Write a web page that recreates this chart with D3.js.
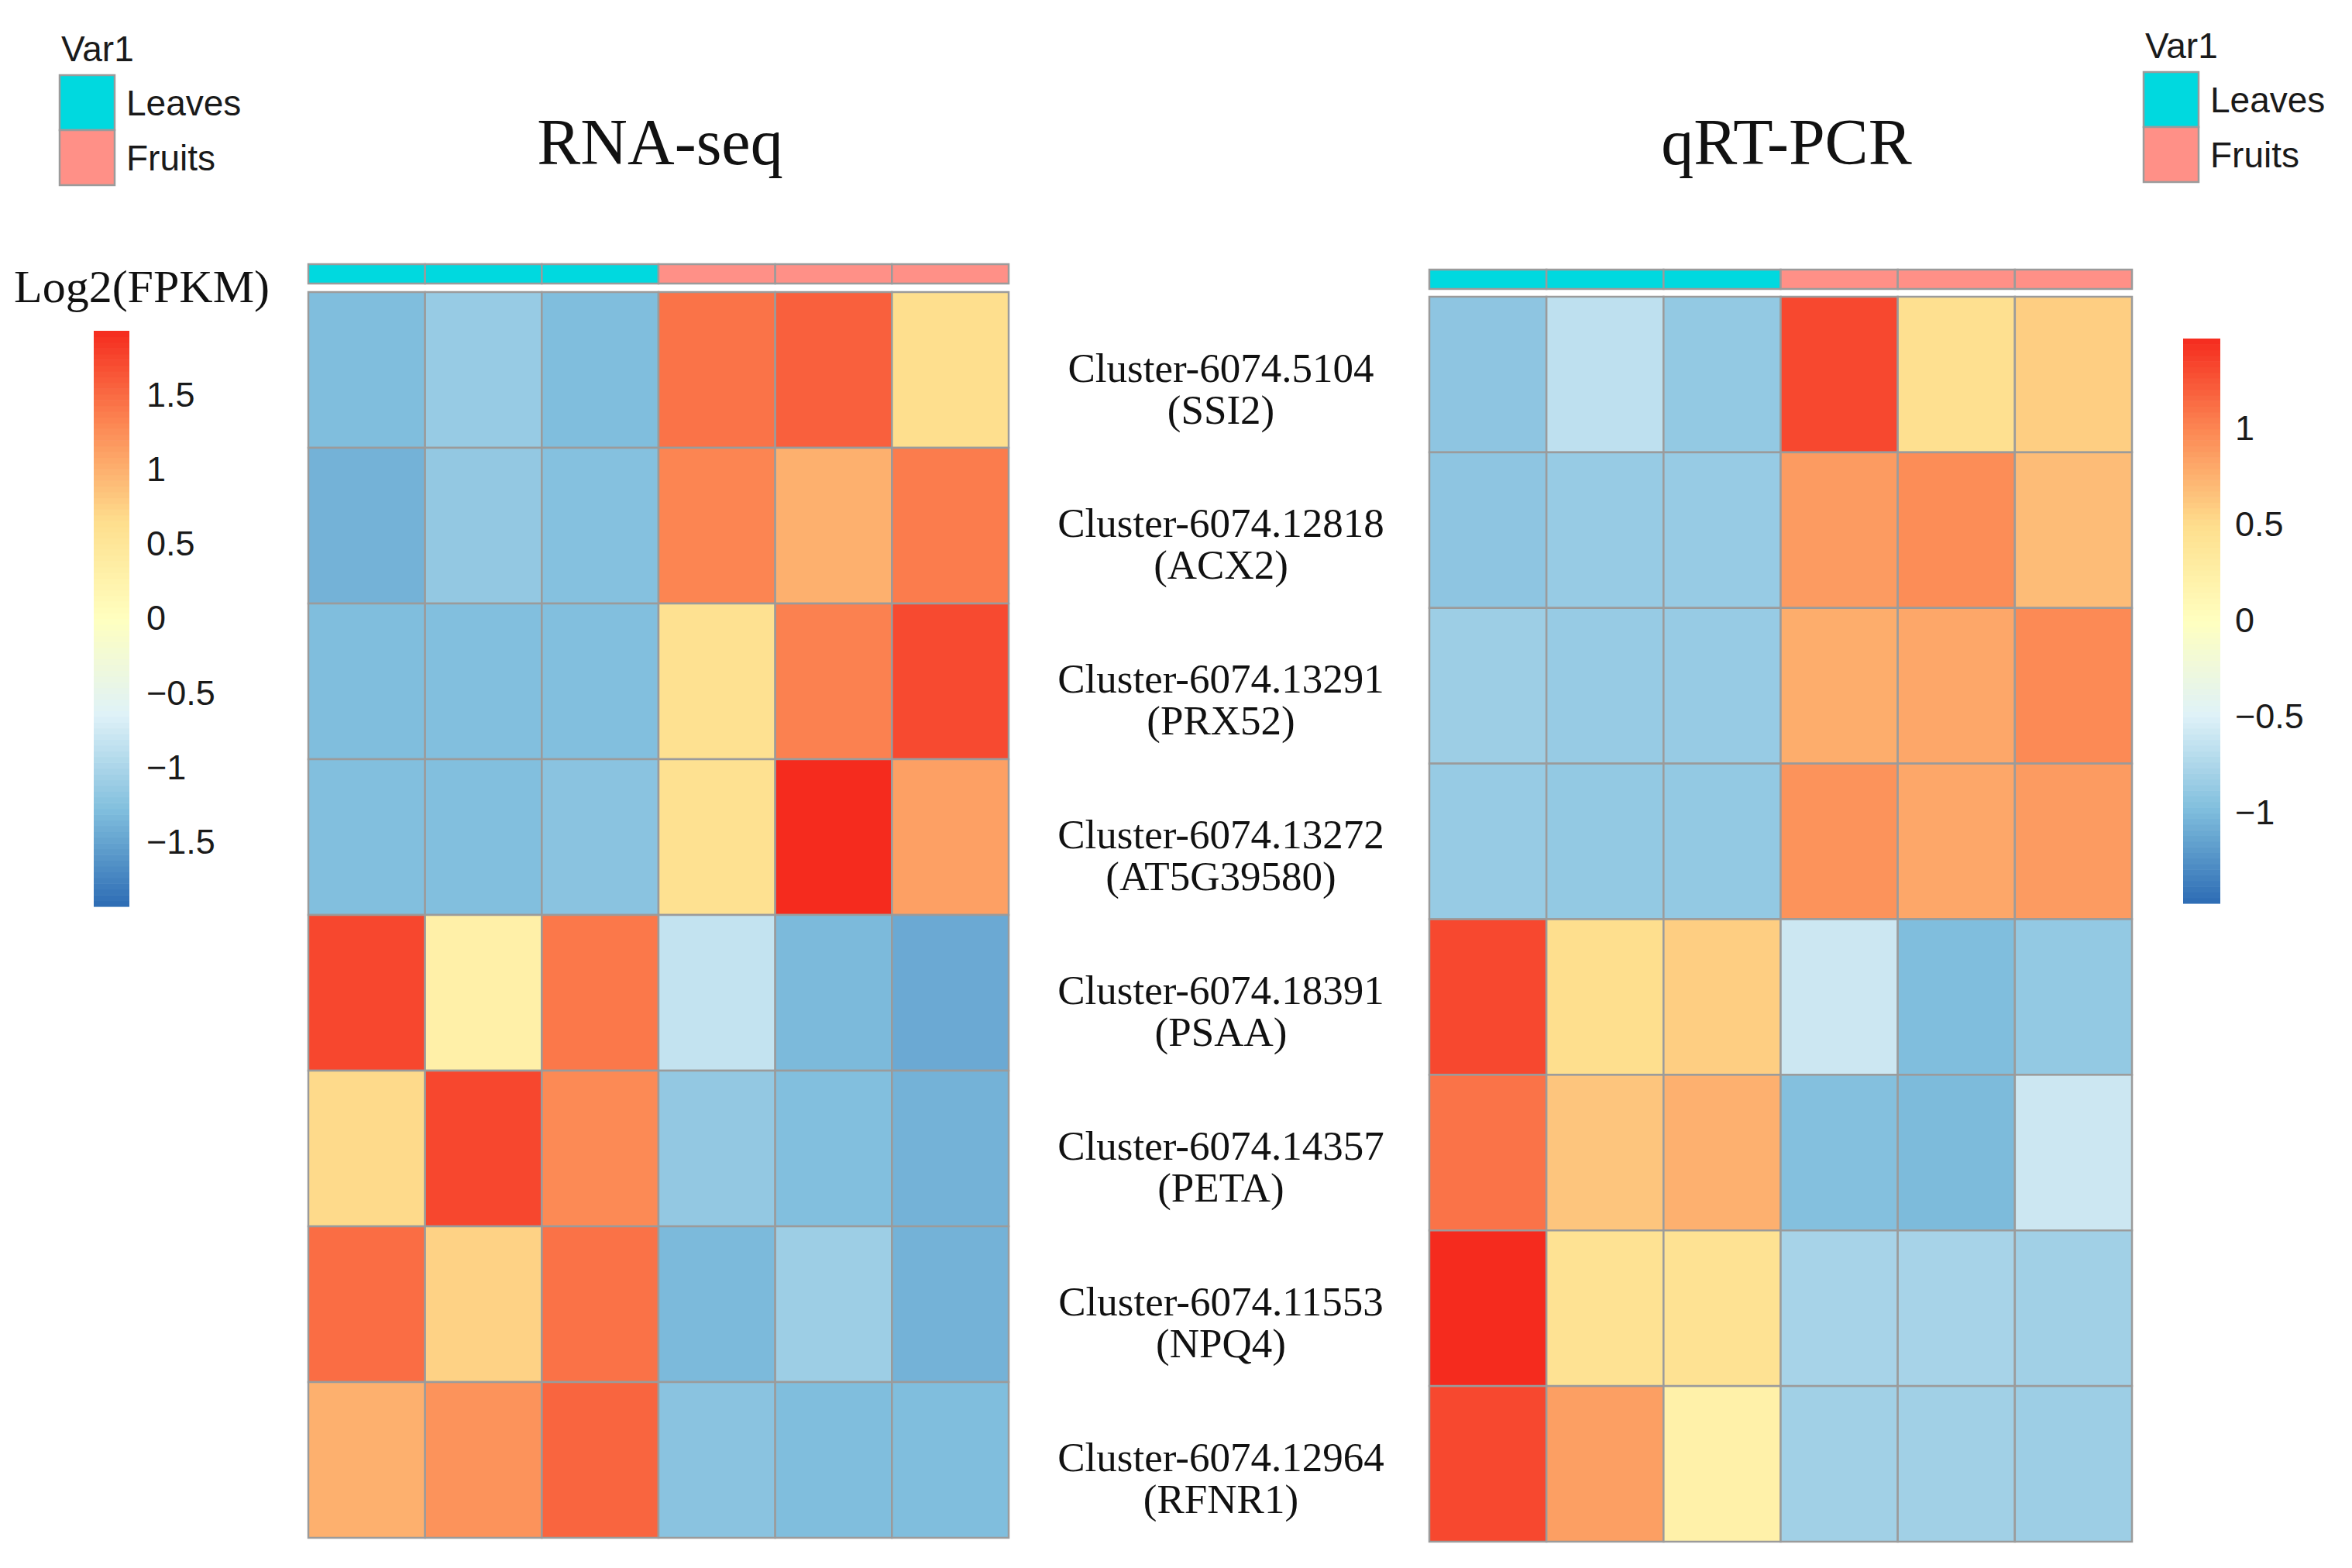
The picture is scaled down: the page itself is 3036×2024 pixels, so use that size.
<!DOCTYPE html>
<html>
<head>
<meta charset="utf-8">
<script src="https://cdn.jsdelivr.net/npm/d3@7"></script>
<style>
  body { margin: 0; background: #fff; }
  svg { display: block; }
</style>
</head>
<body>
<svg width="3036" height="2024"></svg>
<script>
// samples (columns) and their tissue group
var samples = ["L1", "L2", "L3", "F1", "F2", "F3"];
var groups = ["Leaves", "Leaves", "Leaves", "Fruits", "Fruits", "Fruits"];
var groupLevels = ["Leaves", "Fruits"];
var groupColors = ["#00D9DF", "#FF9087"];

// genes (rows)
var genes = ["Cluster-6074.5104", "Cluster-6074.12818", "Cluster-6074.13291", "Cluster-6074.13272",
             "Cluster-6074.18391", "Cluster-6074.14357", "Cluster-6074.11553", "Cluster-6074.12964"];
var geneNames = ["SSI2", "ACX2", "PRX52", "AT5G39580", "PSAA", "PETA", "NPQ4", "RFNR1"];

// row-scaled expression, RNA-seq
var rnaSeq = [
  [-1.29, -1.13, -1.29, 1.44, 1.57, 0.64],
  [-1.38, -1.16, -1.25, 1.32, 1.00, 1.38],
  [-1.29, -1.27, -1.27, 0.61, 1.35, 1.72],
  [-1.27, -1.27, -1.22, 0.61, 1.93, 1.12],
  [1.74, 0.30, 1.41, -0.83, -1.32, -1.45],
  [0.68, 1.74, 1.29, -1.16, -1.27, -1.38],
  [1.48, 0.74, 1.45, -1.32, -1.09, -1.38],
  [1.00, 1.22, 1.54, -1.22, -1.29, -1.29]
];
// row-scaled expression, qRT-PCR
var qrtPcr = [
  [-0.91, -0.66, -0.88, 1.32, 0.47, 0.59],
  [-0.91, -0.86, -0.86, 0.88, 0.96, 0.69],
  [-0.83, -0.86, -0.86, 0.78, 0.81, 0.98],
  [-0.86, -0.88, -0.88, 0.93, 0.81, 0.88],
  [1.32, 0.49, 0.59, -0.59, -0.98, -0.88],
  [1.10, 0.64, 0.76, -0.96, -1.00, -0.59],
  [1.47, 0.44, 0.44, -0.78, -0.78, -0.81],
  [1.32, 0.86, 0.22, -0.81, -0.81, -0.83]
];

var rnaLimit = 1.93, pcrLimit = 1.47;
var rnaTicks = [-1.5, -1, -0.5, 0, 0.5, 1, 1.5];
var pcrTicks = [-1, -0.5, 0, 0.5, 1];

var palette = ["#2C6CB4", "#80BEDD", "#DFF2F8", "#FFFFBF", "#FEDF8E", "#FC8A55", "#F52B1E"];
var borderCol = "#9b9b9b";

var svg = d3.select("svg");

function makeColor(lim) {
    return d3.scaleLinear()
        .domain(d3.range(7).map(function (i) { return -lim + i * lim / 3; }))
        .range(palette)
        .clamp(true);
}

function heatmap(opt) {
    var g = svg.append("g");
    var x = d3.scaleBand().domain(samples).range([opt.x0, opt.x1]);
    var y = d3.scaleBand().domain(genes).range([opt.y0, opt.y1]);
    var color = makeColor(opt.limit);

    // annotation bar
    g.selectAll("rect.ann")
        .data(samples)
        .enter().append("rect")
        .attr("class", "ann")
        .attr("x", function (d) { return x(d); })
        .attr("y", opt.annY)
        .attr("width", x.bandwidth())
        .attr("height", opt.annH)
        .attr("fill", function (d, i) { return groupColors[groupLevels.indexOf(groups[i])]; })
        .attr("stroke", borderCol)
        .attr("stroke-width", 2.5);

    // cells
    var cells = [];
    opt.values.forEach(function (row, r) {
        row.forEach(function (v, c) { cells.push({ gene: genes[r], sample: samples[c], v: v }); });
    });
    g.selectAll("rect.cell")
        .data(cells)
        .enter().append("rect")
        .attr("class", "cell")
        .attr("x", function (d) { return x(d.sample); })
        .attr("y", function (d) { return y(d.gene); })
        .attr("width", x.bandwidth())
        .attr("height", y.bandwidth())
        .attr("fill", function (d) { return color(d.v); })
        .attr("stroke", borderCol)
        .attr("stroke-width", 2.5);

    // title
    svg.append("text")
        .attr("x", opt.titleX)
        .attr("y", 212)
        .attr("text-anchor", "middle")
        .attr("font-family", "'Liberation Serif', 'Times New Roman', serif")
        .attr("font-size", 84)
        .attr("fill", "#111")
        .text(opt.title);

    // colour legend
    var ly = d3.scaleLinear().domain([-opt.limit, opt.limit]).range([opt.barY1, opt.barY0]);
    var n = 100, step = 2 * opt.limit / n;
    svg.append("g").selectAll("rect")
        .data(d3.range(n))
        .enter().append("rect")
        .attr("x", opt.barX)
        .attr("width", opt.barW)
        .attr("y", function (i) { return ly(-opt.limit + (i + 1) * step); })
        .attr("height", function (i) { return ly(-opt.limit + i * step) - ly(-opt.limit + (i + 1) * step) + 0.6; })
        .attr("fill", function (i) { return color(-opt.limit + (i + 0.5) * step); });

    var ax = svg.append("g")
        .attr("transform", "translate(" + (opt.barX + opt.barW) + ",0)")
        .call(d3.axisRight(ly).tickValues(opt.ticks).tickSize(0).tickPadding(opt.tickPad)
            .tickFormat(d3.format("~g")));
    ax.select(".domain").remove();
    ax.selectAll("text")
        .attr("font-family", "'Liberation Sans', Arial, sans-serif")
        .attr("font-size", 45)
        .attr("fill", "#1a1a1a");

    // group legend
    var lg = svg.append("g").attr("transform", "translate(" + opt.legX + "," + opt.legY + ")");
    lg.append("text")
        .attr("x", 2).attr("y", -18)
        .attr("font-family", "'Liberation Sans', Arial, sans-serif")
        .attr("font-size", 46)
        .attr("fill", "#1a1a1a")
        .text("Var1");
    groupLevels.forEach(function (lev, i) {
        lg.append("rect")
            .attr("x", 0).attr("y", i * 71)
            .attr("width", 71).attr("height", 71)
            .attr("fill", groupColors[i])
            .attr("stroke", borderCol)
            .attr("stroke-width", 2.5);
        lg.append("text")
            .attr("x", 86).attr("y", i * 71 + 52)
            .attr("font-family", "'Liberation Sans', Arial, sans-serif")
            .attr("font-size", 46)
            .attr("fill", "#1a1a1a")
            .text(lev);
    });

    return y;
}

var yLeft = heatmap({
    values: rnaSeq, limit: rnaLimit, ticks: rnaTicks, title: "RNA-seq",
    x0: 398, x1: 1302, y0: 377, y1: 1985, annY: 341, annH: 25, titleX: 852,
    barX: 121, barW: 46, barY0: 427, barY1: 1170, tickPad: 22,
    legX: 77, legY: 97
});
var yRight = heatmap({
    values: qrtPcr, limit: pcrLimit, ticks: pcrTicks, title: "qRT-PCR",
    x0: 1845, x1: 2752, y0: 383, y1: 1990, annY: 348, annH: 25, titleX: 2306,
    barX: 2818, barW: 48, barY0: 437, barY1: 1166, tickPad: 19,
    legX: 2767, legY: 93
});

// title of the left colour key
svg.append("text")
    .attr("x", 183).attr("y", 390)
    .attr("text-anchor", "middle")
    .attr("font-family", "'Liberation Serif', 'Times New Roman', serif")
    .attr("font-size", 60)
    .attr("fill", "#111")
    .text("Log2(FPKM)");

// gene labels between the two heatmaps
var labels = svg.append("g").selectAll("text")
    .data(genes)
    .enter().append("text")
    .attr("text-anchor", "middle")
    .attr("font-family", "'Liberation Serif', 'Times New Roman', serif")
    .attr("font-size", 53)
    .attr("fill", "#111");
labels.append("tspan")
    .attr("x", 1576)
    .attr("y", function (d) { return (yLeft(d) + yRight(d)) / 2 + yLeft.bandwidth() / 2 + 12; })
    .text(function (d) { return d; });
labels.append("tspan")
    .attr("x", 1576)
    .attr("dy", 54)
    .text(function (d, i) { return "(" + geneNames[i] + ")"; });
</script>
</body>
</html>
